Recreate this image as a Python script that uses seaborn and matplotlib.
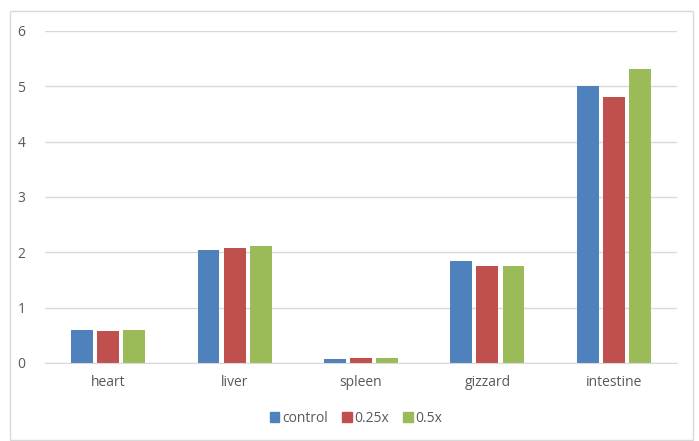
import matplotlib.pyplot as plt
import pandas as pd
import seaborn as sns
from matplotlib.patches import Rectangle

organs = ["heart", "liver", "spleen", "gizzard", "intestine"]
groups = ["control", "0.25x", "0.5x"]
control = [0.60, 2.05, 0.08, 1.84, 5.00]
dose_025 = [0.58, 2.08, 0.09, 1.75, 4.80]
dose_05 = [0.60, 2.12, 0.09, 1.76, 5.31]
yticks = [0, 1, 2, 3, 4, 5, 6]

colors = ["#4f81bd", "#c0504d", "#9bbb59"]

df = pd.DataFrame({
    "organ": organs * 3,
    "group": [g for g in groups for _ in organs],
    "value": control + dose_025 + dose_05,
})

sns.set_style("white")
plt.rcParams["font.family"] = ["Open Sans", "DejaVu Sans"]

fig = plt.figure(figsize=(6.99, 4.41), dpi=100)
ax = fig.add_axes([45 / 699, 78 / 441, 632 / 699, 332 / 441])

sns.barplot(data=df, x="organ", y="value", hue="group", order=organs, hue_order=groups,
            palette=colors, saturation=1, width=0.62, gap=0.16, ax=ax, legend=False,
            errorbar=None, linewidth=0)

ax.set_ylim(0, 6)
ax.set_yticks(yticks)
ax.set_xlim(-0.5, 4.5)
ax.set_xlabel("")
ax.set_ylabel("")
ax.yaxis.grid(True, color="#d9d9d9", linewidth=1)
ax.set_axisbelow(True)
for side in ["top", "right", "left"]:
    ax.spines[side].set_visible(False)
ax.spines["bottom"].set_color("#d9d9d9")
ax.tick_params(axis="y", length=0, labelsize=10, colors="#595959", pad=14)
ax.tick_params(axis="x", length=0, labelsize=10, colors="#595959", pad=9)

handles = [Rectangle((0, 0), 1, 1, color=c) for c in colors]
fig.legend(handles, groups, loc="center", bbox_to_anchor=(356 / 699, 1 - 418 / 441), ncol=3,
           frameon=False, fontsize=10, handlelength=0.7, handleheight=0.7,
           handletextpad=0.2, columnspacing=1.0, labelcolor="#595959")

fig.patches.append(Rectangle((10 / 699, 1 / 441), 683 / 699, 429 / 441, transform=fig.transFigure,
                             fill=False, edgecolor="#d9d9d9", linewidth=1))

fig.savefig("out.png", dpi=100)
